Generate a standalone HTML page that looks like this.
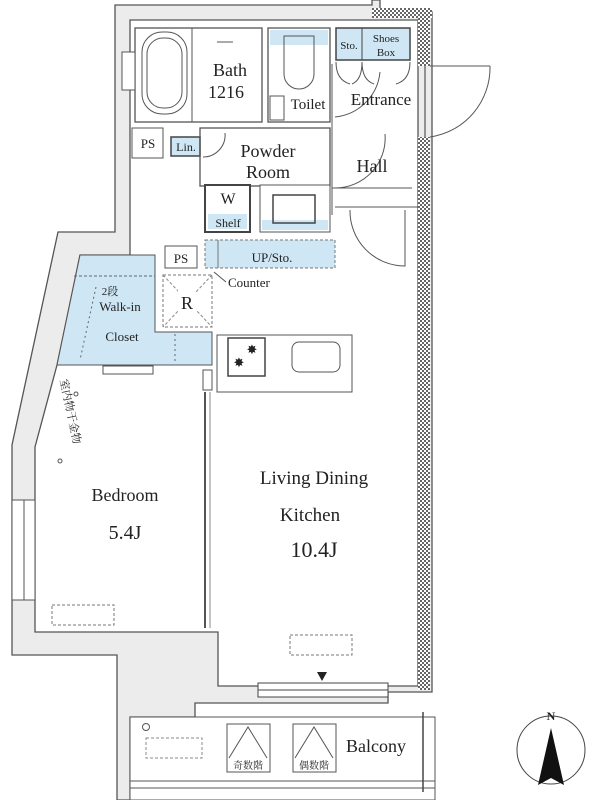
<!DOCTYPE html>
<html><head><meta charset="utf-8"><style>
html,body{margin:0;padding:0;background:#fff;}
svg{display:block;}
text{font-family:"Liberation Serif","Noto Serif CJK SC",serif;fill:#222;}
</style></head><body>
<svg width="600" height="800" viewBox="0 0 600 800" xmlns="http://www.w3.org/2000/svg">
<defs>
<pattern id="h" width="4" height="4" patternUnits="userSpaceOnUse">
<rect width="4" height="4" fill="#fff"/><rect width="2" height="2" fill="#666"/><rect x="2" y="2" width="2" height="2" fill="#666"/>
</pattern>
</defs>
<polygon points="115,5 372,5 372,0 380,0 380,12 432,12 432,692 388,692 388,703 195,703 195,717 130,717 130,800 117,800 117,655 12,655 12,445 58,232 115,232" fill="#ececec" stroke="#555" stroke-width="1.3"/>
<polygon points="130,20 418,20 418,686 218,686 218,632 35,632 35,447 57,365 80,255 130,255" fill="#fff" stroke="#555" stroke-width="1.3"/>
<rect x="372" y="8" width="60" height="10" fill="url(#h)"/>
<rect x="418" y="10" width="12" height="56" fill="url(#h)"/>
<rect x="418" y="137" width="12" height="553" fill="url(#h)"/>
<line x1="425" y1="66" x2="425" y2="137" stroke="#555" stroke-width="1.2"/>
<line x1="430" y1="66" x2="490" y2="66" stroke="#555"/>
<path d="M430,137 A70,70 0 0 0 490,66" fill="none" stroke="#555"/>
<rect x="135" y="28" width="127" height="94" fill="#fff" stroke="#555" stroke-width="1.3"/>
<rect x="142" y="32" width="45" height="82" rx="20" fill="none" stroke="#555"/>
<rect x="147" y="38" width="35" height="70" rx="16" fill="none" stroke="#555"/>
<line x1="192" y1="28" x2="192" y2="122" stroke="#555"/>
<line x1="217" y1="42" x2="233" y2="42" stroke="#555"/>
<rect x="122" y="52" width="13" height="38" fill="#fff" stroke="#555"/>
<text x="230" y="76" font-size="18" text-anchor="middle">Bath</text>
<text x="226" y="98" font-size="18" text-anchor="middle">1216</text>
<rect x="268" y="28" width="62" height="94" fill="#fff" stroke="#555" stroke-width="1.3"/>
<rect x="270" y="30" width="58" height="15" fill="#cfe7f5"/>
<path d="M284,36 h30 v38 a15,15 0 0 1 -30,0 z" fill="none" stroke="#555"/>
<rect x="270" y="96" width="14" height="24" fill="none" stroke="#555"/>
<text x="308" y="109" font-size="15" text-anchor="middle">Toilet</text>
<rect x="336" y="28" width="74" height="32" fill="#cfe7f5" stroke="#444" stroke-width="1.5"/>
<line x1="362" y1="28" x2="362" y2="60" stroke="#444"/>
<text x="349" y="49" font-size="11" text-anchor="middle">Sto.</text>
<text x="386" y="42" font-size="11" text-anchor="middle">Shoes</text>
<text x="386" y="56" font-size="11" text-anchor="middle">Box</text>
<path d="M336,62 q0,18 14,22 M362,62 q0,18 -10,22 M362,62 q0,18 12,22 M410,62 q0,18 -14,22" fill="none" stroke="#555"/>
<line x1="332" y1="64" x2="332" y2="215" stroke="#555"/>
<path d="M335,117 A50,50 0 0 0 380,72" fill="none" stroke="#555"/>
<text x="381" y="105" font-size="17" text-anchor="middle">Entrance</text>
<rect x="132" y="128" width="31" height="30" fill="#fff" stroke="#555"/>
<text x="148" y="148" font-size="13" text-anchor="middle">PS</text>
<rect x="171" y="137" width="29" height="19" fill="#cfe7f5" stroke="#444" stroke-width="1.5"/>
<text x="186" y="151" font-size="12" text-anchor="middle">Lin.</text>
<rect x="200" y="128" width="130" height="58" fill="none" stroke="#555" stroke-width="1.3"/>
<path d="M203,157 A22,22 0 0 0 225,133" fill="none" stroke="#555"/>
<text x="268" y="157" font-size="18" text-anchor="middle">Powder</text>
<text x="268" y="178" font-size="18" text-anchor="middle">Room</text>
<line x1="332" y1="188" x2="412" y2="188" stroke="#555"/>
<path d="M335,188 A50,50 0 0 0 385,134" fill="none" stroke="#555"/>
<text x="372" y="172" font-size="18" text-anchor="middle">Hall</text>
<line x1="335" y1="207" x2="418" y2="207" stroke="#555"/>
<path d="M350,210 A55,55 0 0 0 405,266 L405,210" fill="none" stroke="#555"/>
<rect x="205" y="185" width="45" height="47" fill="#fff" stroke="#444" stroke-width="2"/>
<rect x="208" y="214" width="39" height="15" fill="#cfe7f5"/>
<text x="228" y="204" font-size="16" text-anchor="middle">W</text>
<text x="228" y="227" font-size="12" text-anchor="middle">Shelf</text>
<rect x="260" y="185" width="70" height="47" fill="#fff" stroke="#555"/>
<rect x="262" y="220" width="66" height="10" fill="#cfe7f5"/>
<rect x="273" y="195" width="42" height="28" fill="none" stroke="#444" stroke-width="1.5"/>
<rect x="205" y="240" width="130" height="28" fill="#cfe7f5" stroke="#777" stroke-dasharray="3,2"/>
<line x1="218" y1="240" x2="218" y2="268" stroke="#777"/>
<text x="272" y="262" font-size="13" text-anchor="middle">UP/Sto.</text>
<rect x="165" y="246" width="32" height="22" fill="#fff" stroke="#555"/>
<text x="181" y="263" font-size="13" text-anchor="middle">PS</text>
<path d="M214,272 L226,282" fill="none" stroke="#555"/>
<text x="228" y="287" font-size="13">Counter</text>
<rect x="163" y="275" width="49" height="52" fill="none" stroke="#777" stroke-dasharray="3,2"/>
<line x1="163" y1="275" x2="212" y2="327" stroke="#888" stroke-dasharray="3,2"/>
<line x1="212" y1="275" x2="163" y2="327" stroke="#888" stroke-dasharray="3,2"/>
<rect x="178" y="290" width="18" height="22" fill="#fff"/>
<text x="187" y="309" font-size="18" text-anchor="middle">R</text>
<polygon points="80,255 155,255 155,332 212,332 212,365 57,365" fill="#cfe7f5" stroke="#555"/>
<line x1="74" y1="276" x2="155" y2="276" stroke="#666" stroke-dasharray="3,2"/>
<line x1="96" y1="287" x2="80" y2="360" stroke="#666" stroke-dasharray="2,3"/>
<line x1="175" y1="334" x2="175" y2="362" stroke="#666" stroke-dasharray="2,3"/>
<text x="120" y="311" font-size="13" text-anchor="middle">Walk-in</text>
<text x="122" y="341" font-size="13" text-anchor="middle">Closet</text>
<text x="110" y="295" font-size="11" text-anchor="middle">2段</text>
<rect x="103" y="366" width="50" height="8" fill="#fff" stroke="#555"/>
<rect x="217" y="335" width="135" height="57" fill="#fff" stroke="#555"/>
<rect x="228" y="338" width="37" height="38" fill="#fff" stroke="#444" stroke-width="1.5"/>
<text x="252" y="354" font-size="13" text-anchor="middle">✸</text>
<text x="239" y="367" font-size="13" text-anchor="middle">✸</text>
<rect x="292" y="342" width="48" height="30" rx="7" fill="none" stroke="#555"/>
<rect x="203" y="370" width="9" height="20" fill="#fff" stroke="#555"/>
<line x1="205" y1="392" x2="205" y2="628" stroke="#555" stroke-width="2"/>
<line x1="210" y1="392" x2="210" y2="628" stroke="#888"/>
<rect x="12" y="500" width="23" height="100" fill="#fff" stroke="#555"/>
<line x1="24" y1="500" x2="24" y2="600" stroke="#555"/>
<text x="60" y="380" font-size="11" transform="rotate(78 60 380)">室内物干金物</text>
<circle cx="76" cy="394" r="2" fill="none" stroke="#555"/>
<circle cx="60" cy="461" r="2" fill="none" stroke="#555"/>
<text x="125" y="501" font-size="18" text-anchor="middle">Bedroom</text>
<text x="125" y="539" font-size="20" text-anchor="middle">5.4J</text>
<rect x="52" y="605" width="62" height="20" fill="none" stroke="#777" stroke-dasharray="3,2"/>
<text x="314" y="484" font-size="19" text-anchor="middle">Living Dining</text>
<text x="310" y="521" font-size="19" text-anchor="middle">Kitchen</text>
<text x="314" y="557" font-size="22" text-anchor="middle">10.4J</text>
<rect x="290" y="635" width="62" height="20" fill="none" stroke="#777" stroke-dasharray="3,2"/>
<polygon points="317,672 327,672 322,681" fill="#222"/>
<rect x="258" y="683" width="130" height="14" fill="#fff" stroke="#444"/>
<line x1="258" y1="690" x2="388" y2="690" stroke="#444"/>
<rect x="130" y="717" width="305" height="83" fill="#fff" stroke="#555"/>
<line x1="130" y1="781" x2="435" y2="781" stroke="#555"/>
<line x1="130" y1="788" x2="435" y2="788" stroke="#555"/>
<line x1="423" y1="712" x2="423" y2="792" stroke="#444" stroke-width="1.5"/>
<circle cx="146" cy="727" r="3.5" fill="none" stroke="#555"/>
<rect x="146" y="738" width="56" height="20" fill="none" stroke="#888" stroke-dasharray="3,2"/>
<rect x="227" y="724" width="43" height="48" fill="#fff" stroke="#555"/>
<polyline points="229,758 248,727 267,758" fill="none" stroke="#555"/>
<text x="248" y="769" font-size="10" text-anchor="middle">奇数階</text>
<rect x="293" y="724" width="43" height="48" fill="#fff" stroke="#555"/>
<polyline points="295,758 314,727 333,758" fill="none" stroke="#555"/>
<text x="314" y="769" font-size="10" text-anchor="middle">偶数階</text>
<text x="376" y="752" font-size="18" text-anchor="middle">Balcony</text>
<circle cx="551" cy="750" r="34" fill="#fff" stroke="#444"/>
<polygon points="551,728 538,785 551,778 564,785" fill="#111"/>
<text x="551" y="720" font-size="12" text-anchor="middle" font-family="Liberation Sans,sans-serif" font-weight="bold">N</text>
</svg>
</body></html>
